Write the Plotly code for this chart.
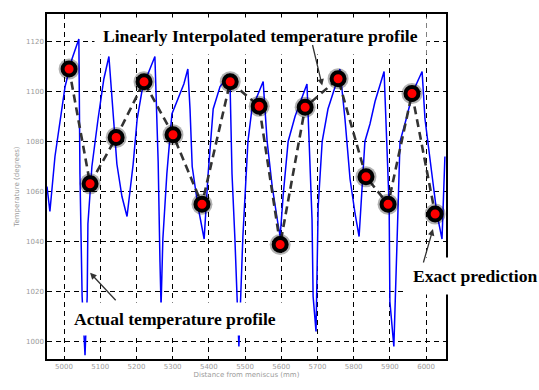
import plotly.graph_objects as go

# Actual temperature profile along the strand (distance in mm, temperature in degrees)
actual_x = [4953, 4961, 4975, 4989, 5003, 5022, 5041, 5044, 5050, 5058, 5064, 5066, 5077, 5094,
            5110, 5124, 5146, 5160, 5174, 5191, 5202, 5215, 5229, 5251, 5260, 5265, 5268, 5273,
            5284, 5298, 5315, 5331, 5342, 5348, 5354, 5370, 5387, 5398, 5412, 5431, 5458, 5464,
            5472, 5483, 5494, 5508, 5519, 5536, 5550, 5561, 5575, 5591, 5597, 5605, 5619, 5638,
            5657, 5671, 5685, 5688, 5696, 5702, 5713, 5729, 5749, 5762, 5776, 5790, 5804, 5815,
            5823, 5831, 5845, 5859, 5884, 5898, 5900, 5911, 5920, 5928, 5947, 5964, 5989, 5997,
            6016, 6030, 6044, 6052]
actual_y = [1062, 1052, 1074, 1089, 1102, 1113, 1121, 1067, 1018, 994.5, 1018, 1047, 1070, 1089,
            1105, 1114, 1071, 1058, 1050, 1071, 1089, 1100, 1106, 1114, 1072, 1032, 1014, 1041,
            1067, 1091, 1097, 1103, 1109, 1093, 1070, 1054, 1041, 1067, 1093, 1102, 1107, 1067,
            1041, 998, 1042, 1080, 1093, 1099, 1104, 1080, 1062, 1047, 1042, 1058, 1080, 1090,
            1098, 1103, 1049, 1018, 1004, 1054, 1080, 1093, 1102, 1109, 1089, 1065, 1051, 1042,
            1061, 1080, 1087, 1096, 1108, 1054, 1016, 998, 1041, 1080, 1090, 1100, 1108, 1089,
            1067, 1051, 1041, 1074]

# Exact predictions at the sample positions (joined by linear interpolation)
pred_x = [5014, 5072, 5144, 5221, 5301, 5381, 5459, 5539, 5597, 5666, 5757, 5834, 5895, 5961, 6025]
pred_y = [1109.0, 1063.1, 1081.6, 1103.9, 1082.7, 1054.9, 1103.9, 1094.1, 1038.8, 1093.7,
          1105.1, 1065.9, 1054.9, 1099.2, 1051.0]

x_ticks = [5000, 5100, 5200, 5300, 5400, 5500, 5600, 5700, 5800, 5900, 6000]
y_ticks = [1000, 1020, 1040, 1060, 1080, 1100, 1120]

fig = go.Figure()

fig.add_trace(go.Scatter(x=actual_x, y=actual_y, mode="lines",
                         line=dict(color="#0000ff", width=1.5), showlegend=False))
fig.add_trace(go.Scatter(x=pred_x, y=pred_y, mode="lines",
                         line=dict(color="#333333", width=2.6, dash="8px,5px"), showlegend=False))
# soft dark halo behind each marker
fig.add_trace(go.Scatter(x=pred_x, y=pred_y, mode="markers",
                         marker=dict(size=21, color="rgba(0,0,0,0.3)", line=dict(width=0)),
                         showlegend=False))
fig.add_trace(go.Scatter(x=pred_x, y=pred_y, mode="markers",
                         marker=dict(size=13, color="#ff0000", line=dict(color="black", width=4)),
                         showlegend=False))

label_font = dict(family="Liberation Serif, Times New Roman, serif", size=17.6, color="black")
box = dict(showarrow=False, xref="paper", yref="paper", xanchor="center", yanchor="middle",
           font=label_font, bgcolor="white")

# text labels with white boxes
fig.add_annotation(x=0.534, y=0.935, text="<b>Linearly Interpolated temperature profile</b>",
                   borderpad=8, **box)
fig.add_annotation(x=0.321, y=0.116, text="<b>Actual temperature profile</b>",
                   borderpad=6, **box)
fig.add_annotation(x=1.075, y=0.241, text="<b>Exact prediction</b>",
                   borderpad=8, **box)

# pointer arrows
arrow_style = dict(showarrow=True, text="", arrowhead=2, arrowsize=1, arrowwidth=1.3,
                   arrowcolor="#333333")
fig.add_annotation(x=5713, y=1102.4, ax=-10, ay=-42, **arrow_style)
fig.add_annotation(x=5072, y=1027.5, ax=27, ay=29, **arrow_style)
fig.add_annotation(x=6019, y=1045.0, ax=-10, ay=35, **arrow_style)

axis_common = dict(showline=True, linecolor="black", linewidth=1.5, mirror=True,
                   showgrid=True, gridcolor="black", gridwidth=1, griddash="5px,4px",
                   zeroline=False, ticks="",
                   tickfont=dict(family="DejaVu Sans, sans-serif", size=7, color="#9a9a9a"))

fig.update_xaxes(range=[4953, 6055], tickvals=x_ticks,
                 title=dict(text="Distance from meniscus (mm)", standoff=2,
                            font=dict(family="DejaVu Sans, sans-serif", size=7, color="#9a9a9a")),
                 **axis_common)
fig.update_yaxes(range=[993, 1131], tickvals=y_ticks,
                 title=dict(text="Temperature (degrees)", standoff=6,
                            font=dict(family="DejaVu Sans, sans-serif", size=7, color="#9a9a9a")),
                 **axis_common)

fig.update_layout(width=539, height=390, margin=dict(l=47, r=93, t=14, b=24),
                  paper_bgcolor="white", plot_bgcolor="white", showlegend=False)

fig.write_html("out.html")
